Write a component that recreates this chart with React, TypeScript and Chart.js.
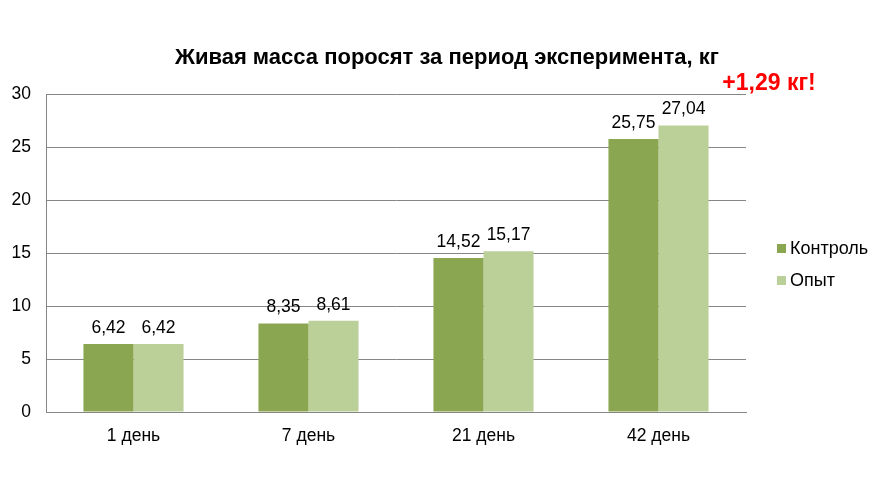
import React, { useEffect, useRef } from 'react';
import { Chart, registerables } from 'chart.js';

Chart.register(...registerables);

const categories = ['1 день', '7 день', '21 день', '42 день'];
const controlValues = [6.42, 8.35, 14.52, 25.75];
const trialValues = [6.42, 8.61, 15.17, 27.04];
const seriesNames = ['Контроль', 'Опыт'];
const seriesColors = ['#8BA650', '#BBCF99'];
const yTicks = [0, 5, 10, 15, 20, 25, 30];

const titleText = 'Живая масса поросят за период эксперимента, кг';
const noteText = '+1,29 кг!';
const FONT = 'Arial, "Liberation Sans", sans-serif';

const fmt = (v: number) => v.toFixed(2).replace('.', ',');

const decorPlugin = {
    id: 'decor',
    afterDatasetsDraw(chart: any) {
        const ctx = chart.ctx;
        ctx.save();
        // value labels above bars
        ctx.font = `17.5px ${FONT}`;
        ctx.fillStyle = '#000';
        ctx.textAlign = 'center';
        ctx.textBaseline = 'alphabetic';
        chart.data.datasets.forEach((ds: any, i: number) => {
            const meta = chart.getDatasetMeta(i);
            meta.data.forEach((bar: any, j: number) => {
                ctx.fillText(fmt(ds.data[j]), bar.x, bar.y - 11);
            });
        });

        // title
        ctx.font = `bold 22px ${FONT}`;
        ctx.fillText(titleText, 447, 64);

        // red note
        ctx.fillStyle = '#FF0000';
        ctx.font = `bold 23px ${FONT}`;
        ctx.fillText(noteText, 769, 90);

        // legend
        ctx.textAlign = 'left';
        ctx.textBaseline = 'middle';
        ctx.font = `18px ${FONT}`;
        seriesNames.forEach((name, i) => {
            const y = 248 + i * 32;
            ctx.fillStyle = seriesColors[i];
            ctx.fillRect(777, y - 4, 9, 9);
            ctx.fillStyle = '#000';
            ctx.fillText(name, 790, y + 1);
        });
        ctx.restore();
    },
};

const App: React.FC = () => {
    const canvasRef = useRef<HTMLCanvasElement | null>(null);

    useEffect(() => {
        document.body.style.margin = '0';
        if (!canvasRef.current) return;
        const chart = new Chart(canvasRef.current, {
            type: 'bar',
            data: {
                labels: categories,
                datasets: [
                    {
                        label: seriesNames[0],
                        data: controlValues,
                        backgroundColor: seriesColors[0],
                        barPercentage: 1,
                        categoryPercentage: 0.572,
                    },
                    {
                        label: seriesNames[1],
                        data: trialValues,
                        backgroundColor: seriesColors[1],
                        barPercentage: 1,
                        categoryPercentage: 0.572,
                    },
                ],
            },
            options: {
                responsive: false,
                animation: false,
                layout: { padding: { top: 94, right: 137, left: 0, bottom: 0 } },
                plugins: {
                    legend: { display: false },
                    title: { display: false },
                    tooltip: { enabled: false },
                },
                scales: {
                    x: {
                        grid: { display: false, drawTicks: false },
                        border: { color: '#868686', width: 1 },
                        ticks: {
                            color: '#000',
                            font: { family: FONT, size: 17.5 },
                            padding: 14,
                        },
                        afterFit: (scale: any) => {
                            scale.height = 86;
                        },
                    },
                    y: {
                        min: 0,
                        max: 30,
                        afterBuildTicks: (scale: any) => {
                            scale.ticks = yTicks.map((v) => ({ value: v }));
                        },
                        grid: { color: '#868686', drawTicks: false },
                        border: { color: '#868686', width: 1 },
                        ticks: {
                            color: '#000',
                            font: { family: FONT, size: 17.5 },
                            padding: 15,
                        },
                        afterFit: (scale: any) => {
                            scale.width = 46;
                        },
                    },
                },
            },
            plugins: [decorPlugin],
        });
        return () => chart.destroy();
    }, []);

    return <canvas ref={canvasRef} width={883} height={498} style={{ display: 'block' }} />;
};

export default App;
